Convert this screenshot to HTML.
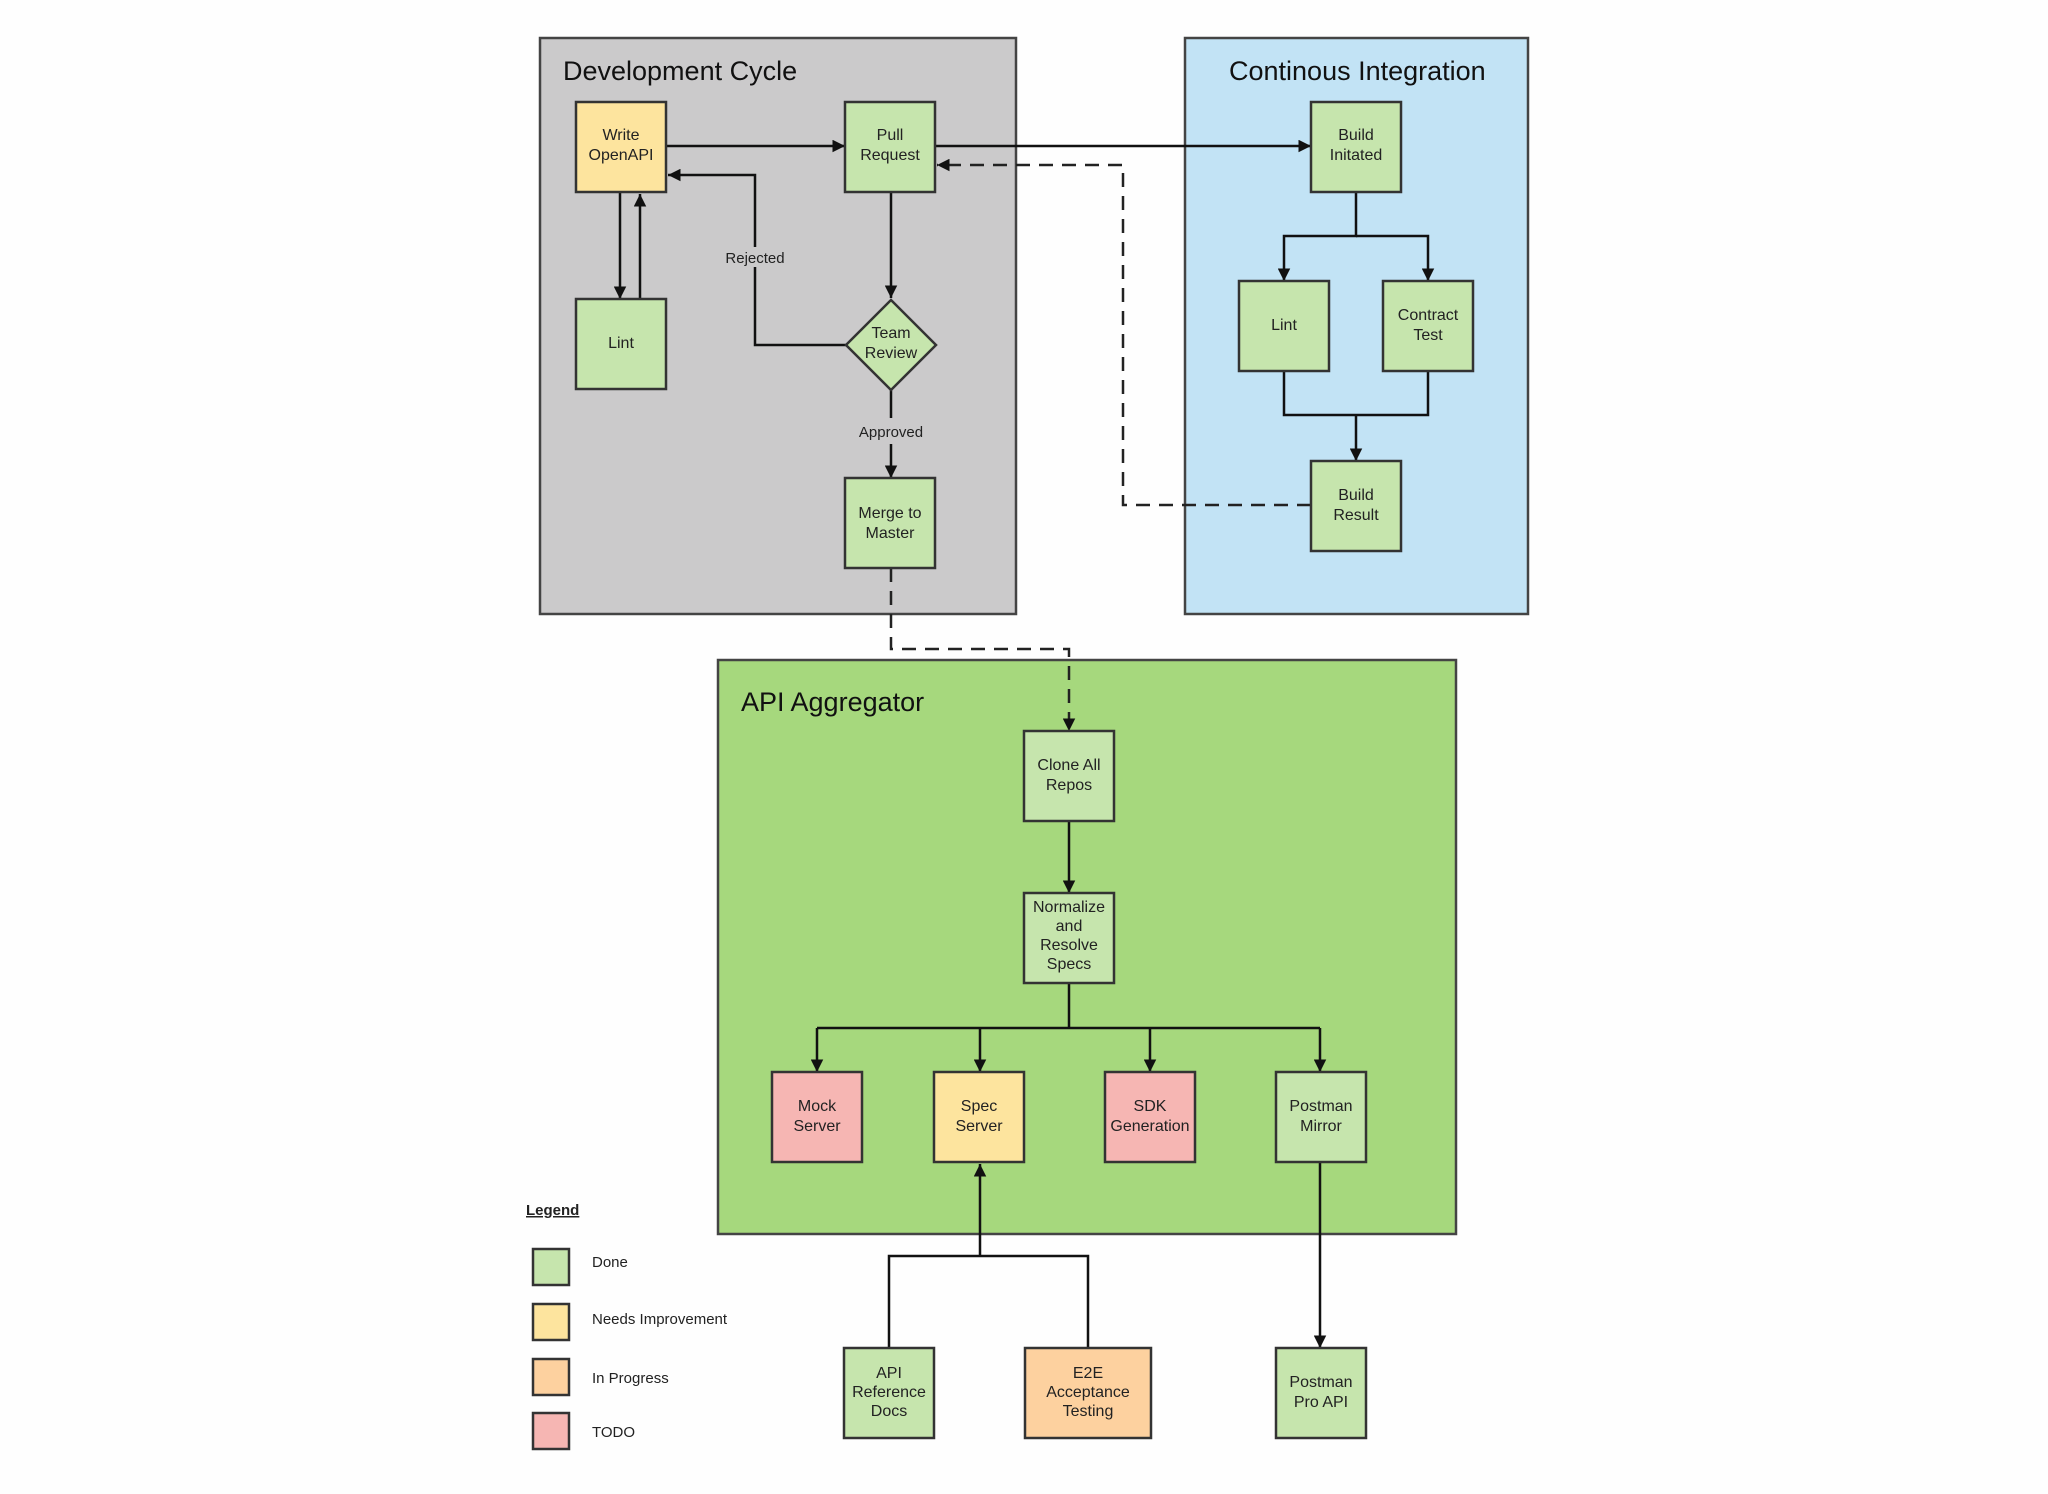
<!DOCTYPE html>
<html><head><meta charset="utf-8"><style>
body{margin:0;background:#fefefe;}
svg{display:block;font-family:"Liberation Sans",sans-serif;}
.n{stroke:#333;stroke-width:2.5;}
.t{font-size:16px;fill:#222;text-anchor:middle;}
.h{font-size:27px;fill:#111;}
.l{stroke:#111;stroke-width:2.5;fill:none;}
.d{stroke:#222;stroke-width:2.5;fill:none;stroke-dasharray:14 9;}
</style></head><body>
<svg width="2048" height="1494" viewBox="0 0 2048 1494">
<defs><marker id="a" viewBox="0 0 10 10" refX="10" refY="5" markerWidth="5" markerHeight="5" orient="auto"><path d="M0,0L10,5L0,10z" fill="#111"/></marker></defs>
<rect x="540" y="38" width="476" height="576" fill="#cbcacb" stroke="#444" stroke-width="2.5"/>
<rect x="1185" y="38" width="343" height="576" fill="#c2e3f5" stroke="#444" stroke-width="2.5"/>
<rect x="718" y="660" width="738" height="574" fill="#a6d87d" stroke="#444" stroke-width="2.5"/>
<text x="563" y="80" class="h">Development Cycle</text>
<text x="1229" y="80" class="h">Continous Integration</text>
<text x="741" y="711" class="h">API Aggregator</text>
<!-- connectors -->
<path class="l" d="M666,146H845" marker-end="url(#a)"/>
<path class="l" d="M935,146H1311" marker-end="url(#a)"/>
<path class="d" d="M1311,505H1123V165H937" marker-end="url(#a)"/>
<path class="l" d="M846,345H755V175H668" marker-end="url(#a)"/>
<path class="l" d="M620,192V299" marker-end="url(#a)"/>
<path class="l" d="M640,299V194" marker-end="url(#a)"/>
<path class="l" d="M891,192V298" marker-end="url(#a)"/>
<path class="l" d="M891,390V418M891,444V478" marker-end="url(#a)"/>
<path class="d" d="M891,568V649H1069V731" marker-end="url(#a)"/>
<path class="l" d="M1356,192V236H1284V281" marker-end="url(#a)"/>
<path class="l" d="M1356,236H1428V281" marker-end="url(#a)"/>
<path class="l" d="M1284,371V415H1428V371M1356,415V461" marker-end="url(#a)"/>
<path class="l" d="M1069,821V893" marker-end="url(#a)"/>
<path class="l" d="M1069,983V1028" />
<path class="l" d="M817,1028H1320"/>
<path class="l" d="M817,1028V1072" marker-end="url(#a)"/>
<path class="l" d="M980,1028V1072" marker-end="url(#a)"/>
<path class="l" d="M1150,1028V1072" marker-end="url(#a)"/>
<path class="l" d="M1320,1028V1072" marker-end="url(#a)"/>
<path class="l" d="M889,1348V1256H1088V1348M980,1256V1164" marker-end="url(#a)"/>
<path class="l" d="M1320,1162V1348" marker-end="url(#a)"/>
<rect x="722" y="247" width="66" height="20" fill="#cbcacb"/>
<text x="755" y="263" class="t" style="font-size:15px">Rejected</text>
<text x="891" y="437" class="t" style="font-size:15px">Approved</text>
<!-- nodes -->
<g class="n">
<rect x="576" y="102" width="90" height="90" fill="#fde49e"/>
<rect x="845" y="102" width="90" height="90" fill="#c6e5ad"/>
<rect x="576" y="299" width="90" height="90" fill="#c6e5ad"/>
<path d="M891,300L936,345L891,390L846,345z" fill="#c6e5ad"/>
<rect x="845" y="478" width="90" height="90" fill="#c6e5ad"/>
<rect x="1311" y="102" width="90" height="90" fill="#c6e5ad"/>
<rect x="1239" y="281" width="90" height="90" fill="#c6e5ad"/>
<rect x="1383" y="281" width="90" height="90" fill="#c6e5ad"/>
<rect x="1311" y="461" width="90" height="90" fill="#c6e5ad"/>
<rect x="1024" y="731" width="90" height="90" fill="#c6e5ad"/>
<rect x="1024" y="893" width="90" height="90" fill="#c6e5ad"/>
<rect x="772" y="1072" width="90" height="90" fill="#f6b6b3"/>
<rect x="934" y="1072" width="90" height="90" fill="#fde49e"/>
<rect x="1105" y="1072" width="90" height="90" fill="#f6b6b3"/>
<rect x="1276" y="1072" width="90" height="90" fill="#c6e5ad"/>
<rect x="844" y="1348" width="90" height="90" fill="#c6e5ad"/>
<rect x="1025" y="1348" width="126" height="90" fill="#fdd19f"/>
<rect x="1276" y="1348" width="90" height="90" fill="#c6e5ad"/>
<rect x="533" y="1249" width="36" height="36" fill="#c6e5ad"/>
<rect x="533" y="1304" width="36" height="36" fill="#fde49e"/>
<rect x="533" y="1359" width="36" height="36" fill="#fdd19f"/>
<rect x="533" y="1413" width="36" height="36" fill="#f6b6b3"/>
</g>
<g class="t">
<text x="621" y="140">Write</text><text x="621" y="160">OpenAPI</text>
<text x="890" y="140">Pull</text><text x="890" y="160">Request</text>
<text x="621" y="348">Lint</text>
<text x="891" y="338">Team</text><text x="891" y="358">Review</text>
<text x="890" y="518">Merge to</text><text x="890" y="538">Master</text>
<text x="1356" y="140">Build</text><text x="1356" y="160">Initated</text>
<text x="1284" y="330">Lint</text>
<text x="1428" y="320">Contract</text><text x="1428" y="340">Test</text>
<text x="1356" y="500">Build</text><text x="1356" y="520">Result</text>
<text x="1069" y="770">Clone All</text><text x="1069" y="790">Repos</text>
<text x="1069" y="912">Normalize</text><text x="1069" y="931">and</text><text x="1069" y="950">Resolve</text><text x="1069" y="969">Specs</text>
<text x="817" y="1111">Mock</text><text x="817" y="1131">Server</text>
<text x="979" y="1111">Spec</text><text x="979" y="1131">Server</text>
<text x="1150" y="1111">SDK</text><text x="1150" y="1131">Generation</text>
<text x="1321" y="1111">Postman</text><text x="1321" y="1131">Mirror</text>
<text x="889" y="1378">API</text><text x="889" y="1397">Reference</text><text x="889" y="1416">Docs</text>
<text x="1088" y="1378">E2E</text><text x="1088" y="1397">Acceptance</text><text x="1088" y="1416">Testing</text>
<text x="1321" y="1387">Postman</text><text x="1321" y="1407">Pro API</text>
</g>
<text x="526" y="1215" style="font-size:15px;font-weight:bold;text-decoration:underline" fill="#222">Legend</text>
<g style="font-size:15px" fill="#222">
<text x="592" y="1267">Done</text>
<text x="592" y="1324">Needs Improvement</text>
<text x="592" y="1383">In Progress</text>
<text x="592" y="1437">TODO</text>
</g>
</svg>
</body></html>
